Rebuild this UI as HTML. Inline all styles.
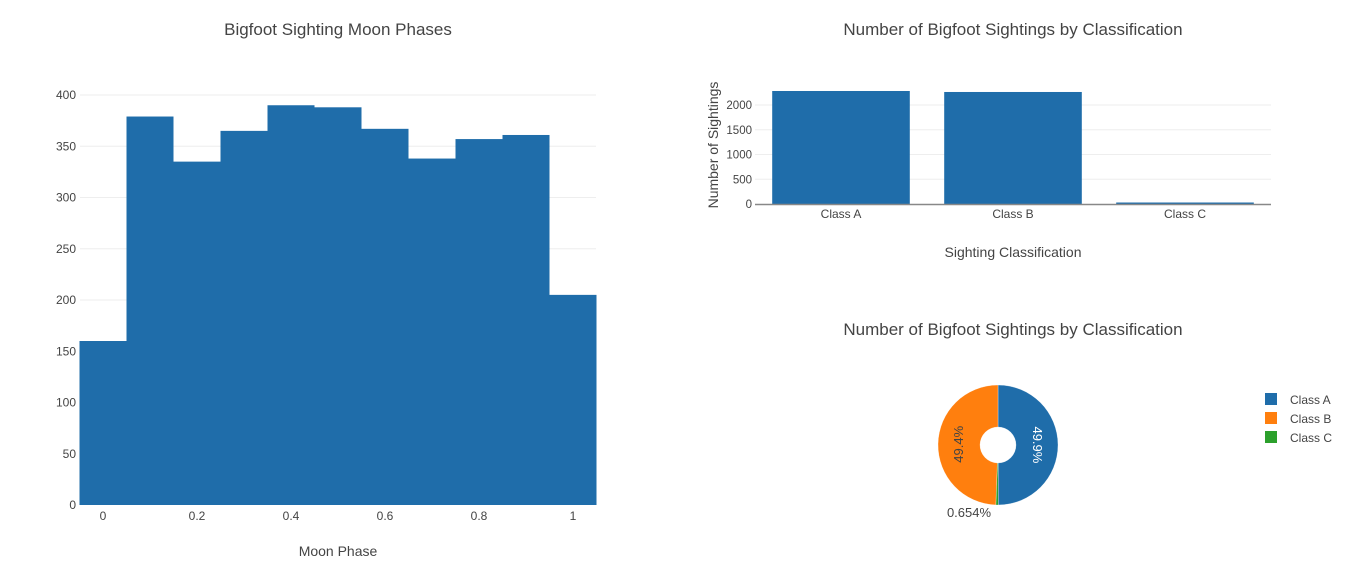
<!DOCTYPE html>
<html><head><meta charset="utf-8"><style>
body{margin:0;background:#fff;font-family:"Liberation Sans",sans-serif;}
svg text{font-family:"Liberation Sans",sans-serif;}
</style></head><body>
<svg id="c" width="1357" height="575" xmlns="http://www.w3.org/2000/svg"></svg>
<script>
const histCenters=[0,0.1,0.2,0.3,0.4,0.5,0.6,0.7,0.8,0.9,1.0];
const histCounts=[160,379,335,365,390,388,367,338,357,361,205];
const histYTicks=[0,50,100,150,200,250,300,350,400];
const histXTicks=[0,0.2,0.4,0.6,0.8,1];
const classNames=["Class A","Class B","Class C"];
const classCounts=[2283,2263,30];
const barYTicks=[0,500,1000,1500,2000];
const pieLabels=["Class A","Class C","Class B"];
const pieValues=[49.9,0.654,49.4];
const pieColors=["#1f6daa","#2ca02c","#ff7f0e"];
const legendLabels=["Class A","Class B","Class C"];
const legendColors=["#1f6daa","#ff7f0e","#2ca02c"];

const svg=document.getElementById('c');
const NS='http://www.w3.org/2000/svg';
function mk(tag,attrs,parent){const e=document.createElementNS(NS,tag);for(const k in attrs)e.setAttribute(k,attrs[k]);(parent||svg).appendChild(e);return e;}
function txt(s,attrs,parent){const e=mk('text',attrs,parent);e.textContent=s;return e;}

// Histogram
const hx=v=>103+(v-0)*470;
const hy=v=>505-v*1.025;
let t=txt('Bigfoot Sighting Moon Phases',{x:338,y:35,'text-anchor':'middle','font-size':17,fill:'#444'});

histYTicks.forEach(v=>{
  if(v>0){const l=mk('line',{x1:80,x2:596,y1:hy(v),y2:hy(v),stroke:'#eee'});}
  const e=txt(String(v),{x:76,y:hy(v)+4,'text-anchor':'end','font-size':12,fill:'#444'});
  
});
histCenters.forEach((c,i)=>{
  const r=mk('rect',{x:hx(c-0.05),y:hy(histCounts[i]),width:hx(c+0.05)-hx(c-0.05),height:hy(0)-hy(histCounts[i]),fill:'#1f6daa'});
  
});
histXTicks.forEach(v=>{
  const e=txt(String(v),{x:hx(v),y:520,'text-anchor':'middle','font-size':12,fill:'#444'});
  
});
t=txt('Moon Phase',{x:338,y:556,'text-anchor':'middle','font-size':14,fill:'#444'});


// Bar chart
const bx0=755,bw=516,band=bw/3;
const by=v=>204-v*0.0495;
t=txt('Number of Bigfoot Sightings by Classification',{x:1013,y:35,'text-anchor':'middle','font-size':17,fill:'#444'});

barYTicks.forEach(v=>{
  if(v>0){const l=mk('line',{x1:bx0,x2:bx0+bw,y1:by(v),y2:by(v),stroke:'#eee'});}
  const e=txt(String(v),{x:752,y:by(v)+4,'text-anchor':'end','font-size':11.5,fill:'#444'});
  
});
classNames.forEach((n,i)=>{
  const x=bx0+band*i+band*0.1;
  const r=mk('rect',{x:x,y:by(classCounts[i]),width:band*0.8,height:by(0)-by(classCounts[i]),fill:'#1f6daa'});
  
  const e=txt(n,{x:bx0+band*(i+0.5),y:218,'text-anchor':'middle','font-size':12,fill:'#444'});
  
});
let l=mk('line',{x1:bx0,x2:bx0+bw,y1:204.5,y2:204.5,stroke:'#888','stroke-width':1.5});

t=txt('Sighting Classification',{x:1013,y:257,'text-anchor':'middle','font-size':14,fill:'#444'});

t=txt('Number of Sightings',{x:0,y:0,'text-anchor':'middle','font-size':14,fill:'#444',transform:'translate(718,145) rotate(-90)'});


// Pie
t=txt('Number of Bigfoot Sightings by Classification',{x:1013,y:335,'text-anchor':'middle','font-size':17,fill:'#444'});

const cx=998,cy=445,R=60,r0=18;
const total=pieValues.reduce((a,b)=>a+b,0);
let ang=0;
pieValues.forEach((v,i)=>{
  const a0=ang,a1=ang+v/total*2*Math.PI;ang=a1;
  const p=(a,rr)=>[cx+rr*Math.sin(a),cy-rr*Math.cos(a)];
  const [x0,y0]=p(a0,R),[x1,y1]=p(a1,R),[x2,y2]=p(a1,r0),[x3,y3]=p(a0,r0);
  const lg=(a1-a0)>Math.PI?1:0;
  const s=mk('path',{d:`M${x0},${y0}A${R},${R} 0 ${lg} 1 ${x1},${y1}L${x2},${y2}A${r0},${r0} 0 ${lg} 0 ${x3},${y3}Z`,fill:pieColors[i],stroke:'#fff','stroke-width':0.3});
  
  const mid=(a0+a1)/2;const [lx,ly]=p(mid,(R+r0)/2);
  let e;
  if(pieLabels[i]==='Class A'){e=txt(v+'%',{x:0,y:0,'text-anchor':'middle','font-size':13,fill:'#fff',transform:`translate(${lx-4},${ly}) rotate(90)`});}
  else if(pieLabels[i]==='Class B'){e=txt(v+'%',{x:0,y:0,'text-anchor':'middle','font-size':13,fill:'#444',transform:`translate(${lx+4},${ly}) rotate(-90)`});}
  else{e=txt(v+'%',{x:cx-29,y:cy+72,'text-anchor':'middle','font-size':13,fill:'#444'});}
  
});
legendLabels.forEach((n,i)=>{
  const g=mk('g',{});
  
  mk('rect',{x:1265,y:393+i*19,width:12,height:12,fill:legendColors[i]},g);
  txt(n,{x:1290,y:404+i*19,'font-size':12,fill:'#444'},g);
});
</script>
</body></html>
